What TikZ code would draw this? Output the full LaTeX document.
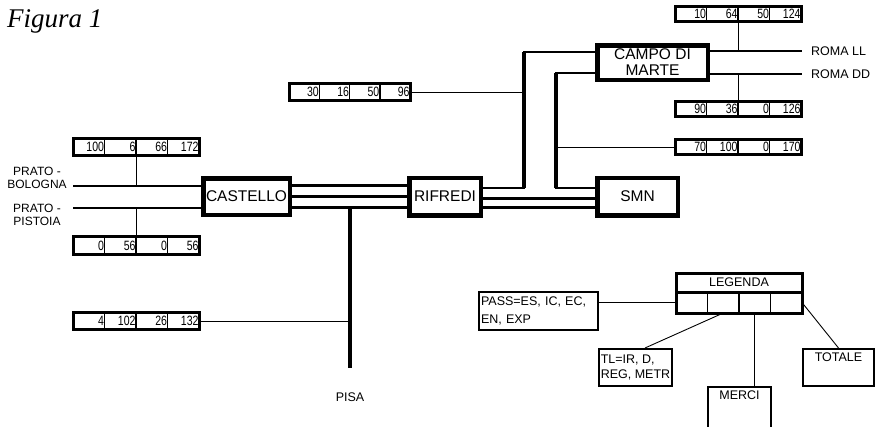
\documentclass[tikz,border=0pt]{standalone}
\usepackage{fontspec}
\setmainfont{Liberation Sans}
\newfontfamily\figfont{Liberation Serif}
\newfontfamily\numfont[FakeStretch=0.78]{Liberation Sans}
\usetikzlibrary{positioning,fit}

\tikzset{
  cell/.style={draw,line width=1.5pt,outer sep=0pt,minimum width=31.5pt,minimum height=17.5pt,
    inner xsep=0.5pt,inner ysep=0pt,text width=30.5pt,align=right,font=\numfont\fontsize{13.5}{14}\selectfont},
  frame/.style={draw,line width=3pt,inner sep=0pt}
}

% row of four value cells: [cell opts]{name}{west point}{a}{b}{c}{d}
\newcommand{\valbox}[7][]{%
  \node[cell,#1,anchor=west] (#21) at (#3) {#4};
  \node[cell,#1,anchor=west] (#22) at (#21.east) {#5};
  \node[cell,#1,anchor=west] (#23) at (#22.east) {#6};
  \node[cell,#1,anchor=west] (#24) at (#23.east) {#7};
  \node[frame,fit=(#21)(#24)] (#2) {};
}

\begin{document}
\begin{tikzpicture}[x=1pt,y=-1pt,
  station/.style={draw,line width=4.5pt,inner sep=0pt,align=center,font=\fontsize{15.5}{16}\selectfont},
  lbl/.style={inner sep=1pt,align=center,font=\fontsize{12.5}{13}\selectfont},
  legbox/.style={draw,line width=2.2pt,inner xsep=1pt,inner ysep=2pt,font=\fontsize{12.5}{15}\selectfont},
  track/.style={line width=2.2pt},
  spine/.style={line width=3.8pt},
  feed/.style={line width=0.9pt}
]
  \useasboundingbox (0,0) rectangle (875,426);

  \node[anchor=base west,inner sep=0pt,font=\figfont\itshape\fontsize{27}{30}\selectfont] (fig) at (7,27) {Figura 1};

  % stations
  \node[station,minimum width=86.5pt,minimum height=36.5pt] (cas) at (246.5,196.5) {CASTELLO};
  \node[station,minimum width=71.5pt,minimum height=37.5pt] (rif) at (445,196.5) {RIFREDI};
  \node[station,minimum width=110.5pt,minimum height=34.5pt] (cdm) at (652.5,62.5) {CAMPO DI\\MARTE};
  \node[station,minimum width=80.5pt,minimum height=37.5pt] (smn) at (637.5,196.5) {SMN};

  % value rows
  \valbox{bo}{73,147}{100}{6}{66}{172}
  \valbox{pt}{73,245.5}{0}{56}{0}{56}
  \valbox{pi}{73,321}{4}{102}{26}{132}
  \valbox[minimum width=30.25pt,text width=29.25pt]{ri}{289,92}{30}{16}{50}{96}
  \valbox[minimum height=15pt]{ll}{675,13.5}{10}{64}{50}{124}
  \valbox[minimum height=15pt]{dd}{675,108.5}{90}{36}{0}{126}
  \valbox[minimum height=15pt]{sm}{675,147}{70}{100}{0}{170}

  \coordinate (bol) at (73,186);
  \coordinate (pis) at (73,208);
  \coordinate (s1b) at (524,188);
  \coordinate (s1t) at (524,52);
  \coordinate (s2b) at (556,188);
  \coordinate (s2t) at (556,73);
  \coordinate (rll) at (802,51);
  \coordinate (rdd) at (802,74);
  \coordinate (pj) at (350,207.5);
  \coordinate (pisa) at (350,368);

  % lines
  \draw[track] (bol) -- (bol -| cas.west);
  \draw[track] (pis) -- (pis -| cas.west);
  \foreach \s in {11,0,-11}
    \draw[track] ([yshift=\s pt]cas.east) -- ([yshift=\s pt]rif.west);
  \foreach \s in {-2,-11}
    \draw[track] ([yshift=\s pt]rif.east) -- ([yshift=\s pt]smn.west);
  \draw[track] (rif.east |- s1b) -- (s1b) -- (s1t) -- (s1t -| cdm.west);
  \draw[spine] (s1b) -- (s1t);
  \draw[track] (smn.west |- s2b) -- (s2b) -- (s2t) -- (s2t -| cdm.west);
  \draw[spine] (s2b) -- (s2t);
  \draw[track] (cdm.east |- rll) -- (rll);
  \draw[track] (cdm.east |- rdd) -- (rdd);
  \draw[spine] (pj) -- (pisa);

  \draw[feed] (bo.south) -- (bo.south |- bol);
  \draw[feed] (pt.north) -- (pt.north |- pis);
  \draw[feed] (pi.east) -- (pi.east -| pj);
  \draw[feed] (ri.east) -- (ri.east -| s1b);
  \draw[feed] (sm.west) -- (sm.west -| s2b);
  \draw[feed] (ll.south) -- (ll.south |- rll);
  \draw[feed] (dd.north) -- (dd.north |- rdd);

  \node[lbl,font=\fontsize{12}{13}\selectfont] (prbo) at (37,178) {PRATO -\\BOLOGNA};
  \node[lbl,font=\fontsize{12}{13}\selectfont] (prpi) at (37,215) {PRATO -\\PISTOIA};
  \node[lbl,right=8pt of rll] (roll) {ROMA LL};
  \node[lbl,right=8pt of rdd] (rodd) {ROMA DD};
  \node[lbl] (pisalbl) at (350,397) {PISA};

  % legenda
  \valbox[minimum height=21pt]{lc}{676,302.5}{}{}{}{}
  \node[frame,minimum width=126pt,minimum height=18.8pt,font=\fontsize{12.5}{13}\selectfont] (leg) at (739,282.6) {LEGENDA};
  \node[legbox,text width=115pt,align=left,minimum width=118.8pt,minimum height=37.8pt,font=\fontsize{12.5}{18}\selectfont] (pass) at (538.5,311) {PASS=ES, IC, EC,\\EN, EXP};
  \node[legbox,align=left,minimum width=72.8pt,minimum height=36.8pt] (tl) at (635.5,367.5) {TL=IR, D,\\REG, METR};
  \node[legbox,anchor=north,minimum width=62.6pt,text height=9pt,text depth=28pt,inner ysep=3pt] (merci) at (739.5,386) {MERCI};
  \node[legbox,anchor=north,minimum width=70.8pt,text height=9pt,text depth=22pt,inner ysep=3pt] (totale) at (838.5,348) {TOTALE};

  \draw[feed] (pass.east |- lc1.west) -- (lc1.west);
  \draw[feed] (lc2.south) -- ([xshift=9.5pt]tl.north);
  \draw[feed] (lc3.south) -- (lc3.south |- merci.north);
  \draw[feed] (lc4.east) -- (totale.north);
\end{tikzpicture}
\end{document}
